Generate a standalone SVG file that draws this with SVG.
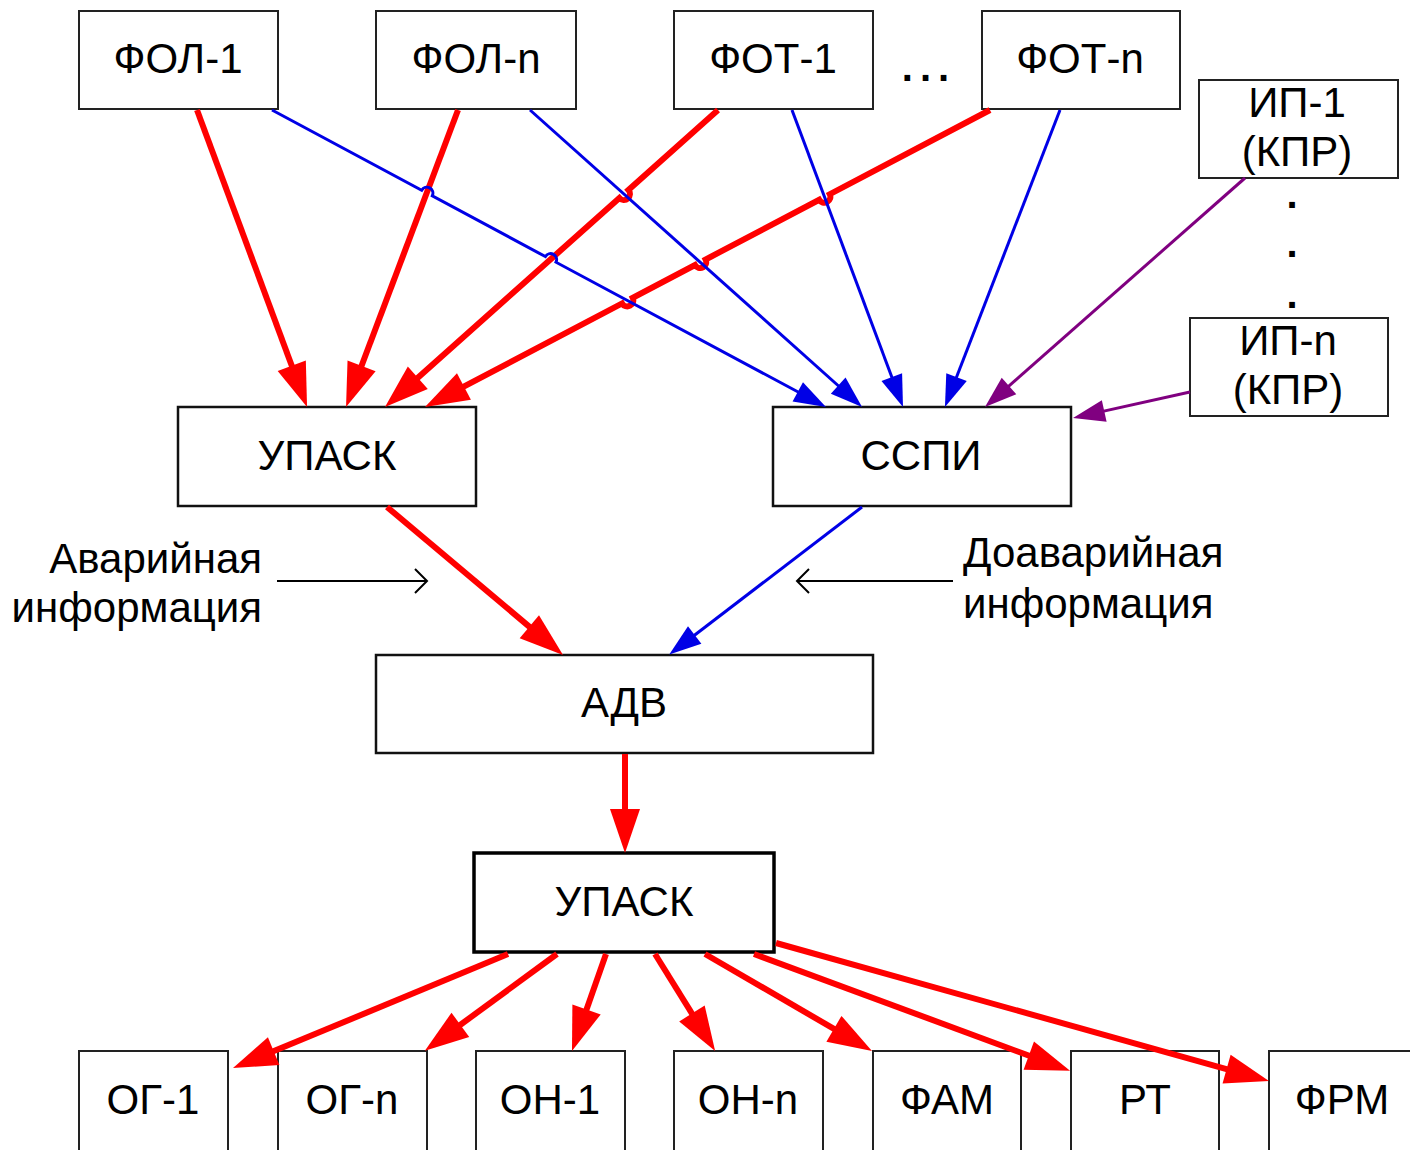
<svg xmlns="http://www.w3.org/2000/svg" width="1410" height="1150" viewBox="0 0 1410 1150">
  <style>
    .box { fill: #fff; stroke: #222; stroke-width: 2; }
    .box-m { fill: #fff; stroke: #111; stroke-width: 2.5; }
    .box-b { fill: #fff; stroke: #000; stroke-width: 3.5; }
    .lbl { font-family: "Liberation Sans", Arial, sans-serif; font-size: 42px; fill: #000; text-anchor: middle; }
    .note { font-family: "Liberation Sans", Arial, sans-serif; font-size: 42px; fill: #000; }
    .dots { font-family: "Liberation Sans", Arial, sans-serif; font-size: 40px; font-weight: bold; fill: #000; text-anchor: middle; }
    .red { fill: none; stroke: #f00; stroke-width: 6; marker-end: url(#headRed); }
    .blue { fill: none; stroke: #0000e6; stroke-width: 3; marker-end: url(#headBlue); }
    .purple { fill: none; stroke: #800080; stroke-width: 3; marker-end: url(#headPurple); }
    .thin { fill: none; stroke: #000; stroke-width: 2; }
  </style>
  <defs>
    <marker id="headRed" markerUnits="userSpaceOnUse" markerWidth="44" markerHeight="30" refX="24" refY="15" orient="auto" overflow="visible">
      <path d="M0,0 L44,15 L0,30 z" fill="#f00"/>
    </marker>
    <marker id="headBlue" markerUnits="userSpaceOnUse" markerWidth="32" markerHeight="22" refX="20" refY="11" orient="auto" overflow="visible">
      <path d="M0,0 L32,11 L0,22 z" fill="#0000e6"/>
    </marker>
    <marker id="headPurple" markerUnits="userSpaceOnUse" markerWidth="32" markerHeight="22" refX="20" refY="11" orient="auto" overflow="visible">
      <path d="M0,0 L32,11 L0,22 z" fill="#800080"/>
    </marker>
  </defs>

  <rect width="1410" height="1150" fill="#fff"/>

  <!-- top row -->
  <g id="fol1"><rect class="box" x="79" y="11" width="199" height="98"/><text class="lbl" x="178" y="73">ФОЛ-1</text></g>
  <g id="foln"><rect class="box" x="376" y="11" width="200" height="98"/><text class="lbl" x="476" y="73">ФОЛ-n</text></g>
  <g id="fot1"><rect class="box" x="674" y="11" width="199" height="98"/><text class="lbl" x="773" y="73">ФОТ-1</text></g>
  <g id="ellipsis-h"><text class="dots" x="929" y="81" letter-spacing="7">...</text></g>
  <g id="fotn"><rect class="box" x="982" y="11" width="198" height="98"/><text class="lbl" x="1080" y="73">ФОТ-n</text></g>

  <!-- measuring devices -->
  <g id="ip1"><rect class="box" x="1199" y="80" width="199" height="98"/><text class="lbl" x="1297" y="117">ИП-1</text><text class="lbl" x="1297" y="166">(КПР)</text></g>
  <g id="ellipsis-v">
    <text class="dots" x="1292" y="208">.</text>
    <text class="dots" x="1292" y="257">.</text>
    <text class="dots" x="1292" y="308">.</text>
  </g>
  <g id="ipn"><rect class="box" x="1190" y="318" width="198" height="98"/><text class="lbl" x="1288" y="355">ИП-n</text><text class="lbl" x="1288" y="404">(КПР)</text></g>

  <!-- middle -->
  <g id="upask1"><rect class="box-m" x="178" y="407" width="298" height="99"/><text class="lbl" x="327" y="470">УПАСК</text></g>
  <g id="sspi"><rect class="box-m" x="773" y="407" width="298" height="99"/><text class="lbl" x="921" y="470">ССПИ</text></g>
  <g id="adv"><rect class="box-m" x="376" y="655" width="497" height="98"/><text class="lbl" x="624" y="717">АДВ</text></g>
  <g id="upask2"><rect class="box-b" x="474" y="853" width="300" height="99"/><text class="lbl" x="624" y="916">УПАСК</text></g>

  <!-- captions -->
  <g id="cap-left">
    <text class="note" x="262" y="573" text-anchor="end">Аварийная</text>
    <text class="note" x="262" y="622" text-anchor="end">информация</text>
  </g>
  <g id="cap-right">
    <text class="note" x="963" y="567">Доаварийная</text>
    <text class="note" x="963" y="618">информация</text>
  </g>

  <!-- bottom row -->
  <g id="og1"><rect class="box" x="79" y="1051" width="149" height="120"/><text class="lbl" x="153" y="1114">ОГ-1</text></g>
  <g id="ogn"><rect class="box" x="278" y="1051" width="149" height="120"/><text class="lbl" x="352" y="1114">ОГ-n</text></g>
  <g id="on1"><rect class="box" x="476" y="1051" width="149" height="120"/><text class="lbl" x="550" y="1114">ОН-1</text></g>
  <g id="onn"><rect class="box" x="674" y="1051" width="149" height="120"/><text class="lbl" x="748" y="1114">ОН-n</text></g>
  <g id="fam"><rect class="box" x="873" y="1051" width="148" height="120"/><text class="lbl" x="947" y="1114">ФАМ</text></g>
  <g id="rt"><rect class="box" x="1071" y="1051" width="148" height="120"/><text class="lbl" x="1145" y="1114">РТ</text></g>
  <g id="frm"><rect class="box" x="1269" y="1051" width="160" height="120"/><text class="lbl" x="1342" y="1114">ФРМ</text></g>

  <!-- connectors -->
  <g id="connectors">
    <!-- emergency data into the upper УПАСК -->
    <path class="red" d="M197,110 L300.1,388.2"/>
    <path class="red" d="M458,110 L353.1,388.3"/>
    <path class="red" d="M718,110 L628.4,190 A6 6 0 0 1 619.4,198 L399.9,393.7"/>
    <path class="red" d="M990,110 L829.8,194.2 A6 6 0 0 1 819.2,199.8 L705.6,259.5 A6 6 0 0 1 695,265.1 L632.7,297.8 A6 6 0 0 1 622.1,303.4 L442.7,397.7"/>
    <!-- pre-emergency data into ССПИ -->
    <path class="blue" d="M272,110 L421.7,190.2 A6 6 0 0 1 432.3,195.8 L545.4,256.6 A6 6 0 0 1 556,262.2 L815.4,401.3"/>
    <path class="blue" d="M530,110 L853.1,399"/>
    <path class="blue" d="M792,110 L898.8,395.8"/>
    <path class="blue" d="M1060,110 L949.3,395.8"/>
    <path class="purple" d="M1245,178 L994,399.1"/>
    <path class="purple" d="M1190,392 L1084.7,415.4"/>
    <!-- into АДВ -->
    <path class="red" d="M387,507 L547.7,642.1"/>
    <path class="blue" d="M862,507 L678.8,647.2"/>
    <path class="red" d="M625,754 L625,833"/>
    <!-- from the lower УПАСК -->
    <path class="red" d="M508,954 L251.5,1060.4"/>
    <path class="red" d="M557,954 L441,1039"/>
    <path class="red" d="M606,954 L578.6,1032.1"/>
    <path class="red" d="M655,954 L704.6,1033.9"/>
    <path class="red" d="M705,954 L854.7,1040.9"/>
    <path class="red" d="M754,954 L1051.3,1063.9"/>
    <path class="red" d="M776,943 L1249.7,1075.6"/>
    <!-- caption pointers -->
    <path class="thin" d="M277,581 L427,581 M415,569 L427,581 L415,593"/>
    <path class="thin" d="M953,581 L797,581 M809,569 L797,581 L809,593"/>
  </g>
</svg>
